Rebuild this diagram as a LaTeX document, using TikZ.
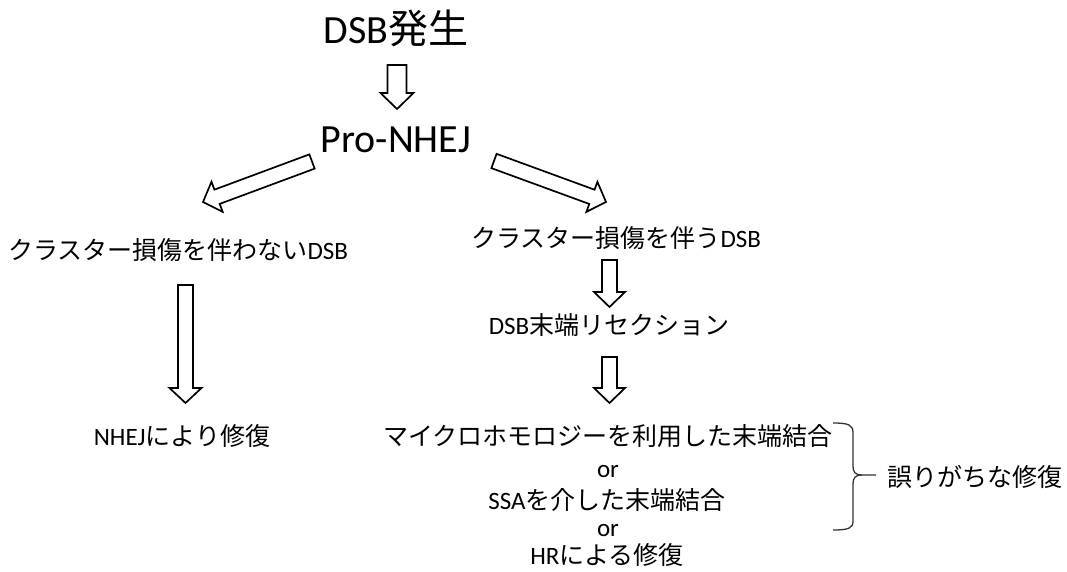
\documentclass[tikz,border=0pt]{standalone}
\usepackage{fontspec}
\setmainfont{Carlito}
\newfontfamily\jp{Noto Sans CJK JP}
\usetikzlibrary{calc}
\newcommand\fatarrow[5]{%
 \draw[fat] ($(#1)!#3!90:(#2)$) -- ($(#2)!#5!(#1)!#3!-90:(#1)$) -- ($(#2)!#5!(#1)!#4!-90:(#1)$) -- (#2)
   -- ($(#2)!#5!(#1)!#4!90:(#1)$) -- ($(#2)!#5!(#1)!#3!90:(#1)$) -- ($(#1)!#3!-90:(#2)$) -- cycle;}
\begin{document}
\begin{tikzpicture}[x=1pt,y=-1pt,
  txt/.style={inner sep=0pt, anchor=base, font=\fontsize{25}{30}\selectfont},
  big/.style={inner sep=0pt, anchor=base, font=\fontsize{40}{48}\selectfont},
  fat/.style={draw=black, line width=1.7pt, fill=white, line join=miter},
  bracestyle/.style={draw=black!80, line width=1.3pt}]
\useasboundingbox (0,0) rectangle (1067,572);
% texts
\node[big] (dsb) at (396,44) {DSB{\jp 発生}};
\node[big] (pro) at (396,153) {Pro-NHEJ};
\node[txt] (nocl) at (178,259) {{\jp クラスター損傷を伴わない}DSB};
\node[txt] (cl) at (616,247) {{\jp クラスター損傷を伴う}DSB};
\node[txt] (res) at (609,334) {DSB{\jp 末端リセクション}};
\node[txt] (nhej) at (182,445) {NHEJ{\jp により修復}};
\node[txt] (mmej) at (608,445) {{\jp マイクロホモロジーを利用した末端結合}};
\node[txt] (or1) at (608,477) {or};
\node[txt] (ssa) at (607,509) {SSA{\jp を介した末端結合}};
\node[txt] (or2) at (608,536) {or};
\node[txt] (hr) at (607,564) {HR{\jp による修復}};
\node[txt] (err) at (975,486) {{\jp 誤りがちな修復}};
% arrow end points
\coordinate (a1s) at (397,65);    \coordinate (a1e) at (397,109);
\coordinate (l1s) at (312,161.5); \coordinate (l1e) at (203,202);
\coordinate (r1s) at (494,161);   \coordinate (r1e) at (606,202);
\coordinate (l2s) at (185.5,285); \coordinate (l2e) at (185.5,403);
\coordinate (r2s) at (609.5,260); \coordinate (r2e) at (609.5,307);
\coordinate (r3s) at (609.5,357); \coordinate (r3e) at (609.5,403);
\fatarrow{a1s}{a1e}{9.5pt}{16.5pt}{16pt}
\fatarrow{l1s}{l1e}{7.6pt}{16pt}{15pt}
\fatarrow{r1s}{r1e}{7.6pt}{16pt}{15pt}
\fatarrow{l2s}{l2e}{7.5pt}{16pt}{15pt}
\fatarrow{r2s}{r2e}{7.5pt}{15.5pt}{15pt}
\fatarrow{r3s}{r3e}{7.5pt}{15.5pt}{15pt}
% brace
\coordinate (bt) at (833,423);
\coordinate (bm) at (862,475);
\coordinate (bb) at (833,530);
\coordinate (btip) at (876,475);
\draw[bracestyle] (bt) .. controls (849,423) and (853,425) .. (853,433) -- (853,466)
  .. controls (853,472) and (855,475) .. (bm) -- (btip);
\draw[bracestyle] (bm) .. controls (855,475) and (853,478) .. (853,484) -- (853,521)
  .. controls (853,528) and (849,530) .. (bb);
\end{tikzpicture}
\end{document}
